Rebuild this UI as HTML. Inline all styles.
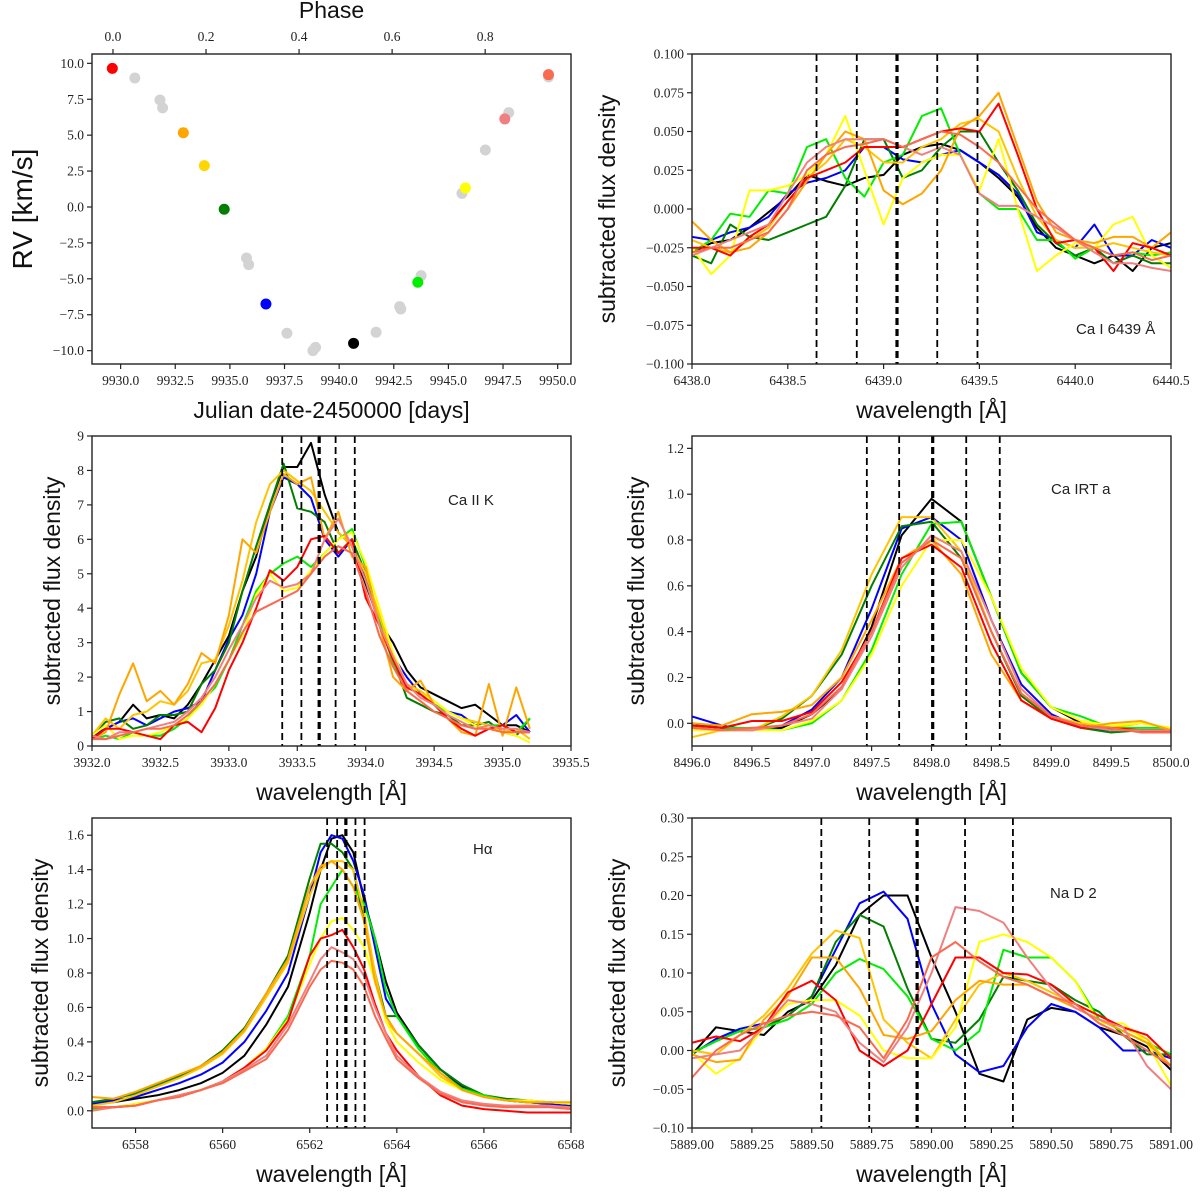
<!DOCTYPE html>
<html><head><meta charset="utf-8"><style>
html,body{margin:0;padding:0;background:#fff;}
svg{display:block;}
.tk{font-family:"Liberation Serif","DejaVu Serif",serif;font-size:13.5px;fill:#222;}
.lab{font-family:"Liberation Sans","DejaVu Sans",sans-serif;font-size:23px;fill:#111;}
.ann{font-family:"Liberation Sans","DejaVu Sans",sans-serif;font-size:15px;fill:#222;}
</style></head><body>
<svg id="fig" width="1200" height="1192" viewBox="0 0 1200 1192" xmlns="http://www.w3.org/2000/svg">
<rect width="1200" height="1192" fill="#fff"/>
</svg>
<script>
// ---- RV panel data ----
const rvGrayJD = [9930.65,9931.8,9931.92,9935.76,9935.86,9937.61,9938.8,9938.92,9941.69,9942.77,9942.82,9943.75,9945.62,9946.69,9947.76,9949.58];
const rvGrayRV = [8.98,7.45,6.9,-3.55,-4.01,-8.79,-10.0,-9.77,-8.72,-6.94,-7.1,-4.78,0.95,3.97,6.57,9.05];
const rvColJD = [9929.62,9932.87,9933.83,9934.74,9936.65,9940.66,9943.6,9945.78,9947.58,9949.58];
const rvColRV = [9.65,5.17,2.88,-0.16,-6.75,-9.49,-5.24,1.32,6.13,9.21];
const rvColors = ['#ff0000','#ffa500','#ffd700','#007f00','#0000ff','#000000','#00ee00','#ffff00','#f08080','#fa6a50'];
const rvXTicks = [9930,9932.5,9935,9937.5,9940,9942.5,9945,9947.5,9950];
const rvYTicks = [-10,-7.5,-5,-2.5,0,2.5,5,7.5,10];
const phaseTicks = [0,0.2,0.4,0.6,0.8];
const phaseT0 = 9929.65, phasePeriod = 21.29;

// ---- spectral series (order: black, blue, darkgreen, lime, gold, yellow, orange, red, lightcoral, tomato) ----
const specColors = ['#000000','#0000ff','#007f00','#00ee00','#ffc400','#ffff00','#ffa500','#ff0000','#f08080','#fa6a50'];

const caIx = [6438.0,6438.1,6438.2,6438.3,6438.4,6438.5,6438.6,6438.7,6438.8,6438.9,6439.0,6439.1,6439.2,6439.3,6439.4,6439.5,6439.6,6439.7,6439.8,6439.9,6440.0,6440.1,6440.2,6440.3,6440.4,6440.5];
const caI_black = [-0.028,-0.022,-0.02,-0.012,-0.002,0.008,0.022,0.018,0.015,0.02,0.022,0.035,0.04,0.042,0.038,0.03,0.02,0.008,-0.012,-0.025,-0.03,-0.035,-0.03,-0.04,-0.025,-0.022];
const caI_blue = [-0.018,-0.02,-0.015,-0.012,-0.005,0.01,0.017,0.02,0.025,0.04,0.04,0.032,0.03,0.035,0.038,0.03,0.022,0.01,-0.015,-0.02,-0.025,-0.01,-0.03,-0.03,-0.02,-0.025];
const caI_dgreen = [-0.03,-0.035,-0.01,-0.018,-0.02,-0.015,-0.01,-0.005,0.015,0.045,0.045,0.02,0.025,0.04,0.05,0.05,0.03,0.012,-0.01,-0.022,-0.03,-0.025,-0.035,-0.03,-0.035,-0.035];
const caI_lime = [-0.028,-0.02,-0.003,-0.005,0.012,0.01,0.04,0.045,0.02,0.008,0.03,0.035,0.06,0.065,0.035,0.01,0.0,0.0,-0.02,-0.02,-0.032,-0.025,-0.03,-0.028,-0.03,-0.028];
const caI_gold = [-0.02,-0.025,-0.028,-0.02,-0.012,0.005,0.02,0.03,0.045,0.04,0.03,0.03,0.04,0.045,0.055,0.058,0.05,0.02,-0.005,-0.02,-0.025,-0.025,-0.022,-0.025,-0.028,-0.03];
const caI_yellow = [-0.025,-0.042,-0.03,0.012,0.012,0.015,0.022,0.035,0.06,0.025,-0.01,0.02,0.03,0.035,0.035,0.012,0.045,0.0,-0.04,-0.03,-0.022,-0.025,-0.01,-0.005,-0.03,-0.038];
const caI_orange = [-0.008,-0.02,-0.028,-0.025,-0.015,0.0,0.018,0.035,0.05,0.045,0.012,0.003,0.01,0.025,0.052,0.06,0.075,0.04,0.005,-0.015,-0.02,-0.022,-0.018,-0.018,-0.025,-0.015];
const caI_red = [-0.025,-0.025,-0.03,-0.018,-0.01,0.005,0.02,0.025,0.03,0.04,0.04,0.04,0.045,0.05,0.052,0.05,0.068,0.035,0.0,-0.022,-0.02,-0.025,-0.04,-0.022,-0.025,-0.03];
const caI_lcoral = [-0.03,-0.025,-0.02,-0.015,-0.01,0.01,0.03,0.04,0.045,0.045,0.045,0.04,0.035,0.04,0.035,0.01,0.002,0.002,-0.005,-0.012,-0.02,-0.028,-0.035,-0.035,-0.038,-0.04];
const caI_tomato = [-0.028,-0.025,-0.025,-0.02,-0.015,0.0,0.025,0.035,0.04,0.042,0.045,0.04,0.045,0.05,0.048,0.04,0.03,0.015,0.0,-0.01,-0.02,-0.025,-0.03,-0.028,-0.033,-0.03];

const caKx = [3932.0,3932.1,3932.2,3932.3,3932.4,3932.5,3932.6,3932.7,3932.8,3932.9,3933.0,3933.1,3933.2,3933.3,3933.4,3933.5,3933.6,3933.7,3933.8,3933.9,3934.0,3934.1,3934.2,3934.3,3934.4,3934.5,3934.6,3934.7,3934.8,3934.9,3935.0,3935.1,3935.2];
const caK_black = [0.3,0.5,0.7,1.2,0.8,0.9,0.8,1.2,1.8,2.5,3.2,4.5,5.5,7.0,8.1,8.1,8.8,7.3,6.2,5.8,4.7,3.6,3.0,2.2,1.7,1.5,1.3,1.1,1.2,0.9,0.6,0.6,0.4];
const caK_blue = [0.3,0.5,0.7,0.8,0.6,0.8,1.0,1.1,1.3,2.2,3.1,3.8,5.0,6.8,7.8,7.6,7.2,6.0,5.5,6.0,4.8,3.5,2.6,2.0,1.5,1.2,1.0,0.9,0.6,0.5,0.6,0.9,0.4];
const caK_dgreen = [0.3,0.7,0.8,0.5,0.6,0.9,0.9,1.0,1.8,2.2,3.0,4.5,5.8,7.0,8.2,6.9,6.8,6.5,5.6,6.0,5.0,3.5,2.5,1.4,1.2,1.0,0.9,0.6,0.6,0.7,0.4,0.3,0.8];
const caK_lime = [0.2,0.3,0.2,0.4,0.3,0.3,0.5,0.8,1.3,1.7,2.5,3.5,4.5,5.0,5.3,5.5,5.2,5.6,6.0,6.3,5.2,3.6,2.4,1.8,1.5,1.2,1.0,0.8,0.7,0.6,0.6,0.4,0.8];
const caK_gold = [0.3,0.8,0.5,0.9,1.0,1.3,1.2,1.6,2.4,2.5,3.5,4.8,6.5,7.6,8.0,7.7,7.4,6.8,6.2,5.8,5.0,3.8,2.5,1.8,1.6,1.3,1.0,0.8,0.7,0.6,0.4,0.5,0.2];
const caK_yellow = [0.3,0.6,0.2,0.3,0.3,0.4,0.6,0.8,1.2,1.8,2.5,3.2,4.4,5.0,4.5,4.6,5.1,5.6,6.0,6.2,5.3,4.0,2.7,1.8,1.5,1.3,1.0,0.8,0.6,0.5,0.4,0.3,0.1];
const caK_orange = [0.2,0.4,1.5,2.4,1.3,1.6,1.2,1.8,2.7,2.4,3.8,6.0,5.6,6.8,7.9,7.6,7.8,6.0,6.8,5.5,5.2,3.5,2.0,1.6,1.9,1.2,0.8,0.4,0.3,1.8,0.3,1.7,0.5];
const caK_red = [0.2,0.5,0.5,0.4,0.3,0.2,0.6,0.7,0.4,1.1,2.2,3.0,4.0,5.1,4.8,5.2,6.0,6.1,5.6,6.0,4.3,3.5,2.5,1.7,1.5,1.2,0.8,0.5,0.3,0.5,0.6,0.4,0.4];
const caK_lcoral = [0.3,0.2,0.4,0.4,0.5,0.6,0.7,1.0,1.4,2.0,2.8,3.5,4.3,4.8,4.6,4.7,5.0,6.0,6.6,5.8,4.8,3.5,2.6,1.8,1.4,1.2,0.9,0.7,0.5,0.6,0.5,0.5,0.4];
const caK_tomato = [0.2,0.2,0.3,0.4,0.5,0.5,0.6,0.9,1.3,1.8,2.5,3.3,3.9,4.1,4.3,4.5,5.0,5.5,5.8,5.6,4.5,3.2,2.3,1.6,1.3,1.0,0.8,0.6,0.5,0.5,0.4,0.4,0.4];

const irtX = [8496,8496.25,8496.5,8496.75,8497,8497.25,8497.5,8497.75,8498,8498.25,8498.5,8498.75,8499,8499.25,8499.5,8499.75,8500];
const irt_black = [0.0,-0.02,-0.03,-0.02,0.04,0.15,0.42,0.82,0.98,0.88,0.55,0.22,0.07,0.0,-0.03,-0.03,-0.03];
const irt_blue = [0.03,-0.01,-0.03,-0.01,0.06,0.2,0.5,0.85,0.9,0.8,0.45,0.17,0.04,-0.02,-0.03,-0.03,-0.03];
const irt_dgreen = [-0.02,-0.03,-0.03,0.02,0.12,0.3,0.6,0.86,0.88,0.72,0.4,0.12,0.02,-0.02,-0.04,-0.03,-0.03];
const irt_lime = [-0.01,-0.02,-0.02,-0.03,0.0,0.1,0.32,0.65,0.87,0.88,0.55,0.22,0.07,0.03,-0.02,-0.02,-0.02];
const irt_gold = [-0.06,-0.03,-0.03,0.03,0.12,0.32,0.65,0.9,0.9,0.75,0.4,0.13,0.03,0.0,-0.02,0.0,-0.02];
const irt_yellow = [-0.03,-0.03,-0.03,-0.03,0.01,0.1,0.3,0.6,0.8,0.8,0.55,0.24,0.07,0.01,-0.01,0.0,-0.02];
const irt_orange = [0.0,-0.01,0.04,0.05,0.08,0.2,0.45,0.72,0.8,0.65,0.3,0.1,0.02,-0.02,0.0,0.01,-0.03];
const irt_red = [-0.01,-0.02,0.01,0.01,0.05,0.18,0.4,0.72,0.78,0.68,0.35,0.1,0.02,-0.02,-0.02,-0.03,-0.04];
const irt_lcoral = [-0.02,-0.03,-0.03,-0.01,0.02,0.15,0.38,0.68,0.82,0.75,0.45,0.15,0.03,-0.01,-0.03,-0.03,-0.03];
const irt_tomato = [-0.02,-0.03,-0.02,-0.01,0.04,0.16,0.4,0.7,0.8,0.72,0.4,0.13,0.03,-0.01,-0.02,-0.04,-0.04];

const haX = [6557,6557.5,6558,6558.5,6559,6559.5,6560,6560.5,6561,6561.5,6562,6562.25,6562.5,6562.75,6563,6563.25,6563.5,6563.75,6564,6564.5,6565,6565.5,6566,6566.5,6567,6567.5,6568];
const ha_black = [0.04,0.05,0.07,0.09,0.12,0.16,0.22,0.32,0.5,0.72,1.15,1.4,1.58,1.6,1.5,1.22,1.0,0.75,0.57,0.38,0.24,0.14,0.09,0.06,0.05,0.04,0.03];
const ha_blue = [0.04,0.06,0.08,0.12,0.16,0.21,0.28,0.4,0.58,0.8,1.25,1.5,1.6,1.58,1.45,1.25,0.95,0.65,0.55,0.38,0.24,0.15,0.08,0.06,0.05,0.04,0.03];
const ha_dgreen = [0.05,0.07,0.1,0.15,0.2,0.26,0.35,0.48,0.68,0.9,1.35,1.55,1.55,1.5,1.4,1.1,0.8,0.55,0.55,0.38,0.24,0.15,0.09,0.07,0.06,0.05,0.04];
const ha_lime = [0.01,0.02,0.04,0.06,0.09,0.12,0.17,0.25,0.36,0.55,0.9,1.2,1.3,1.4,1.3,1.2,1.0,0.7,0.55,0.36,0.22,0.13,0.09,0.06,0.05,0.05,0.04];
const ha_gold = [0.03,0.05,0.09,0.14,0.19,0.25,0.33,0.46,0.66,0.86,1.25,1.4,1.45,1.45,1.4,1.15,0.8,0.52,0.45,0.33,0.2,0.12,0.08,0.06,0.05,0.05,0.04];
const ha_yellow = [0.0,0.02,0.04,0.06,0.09,0.12,0.17,0.25,0.36,0.53,0.85,1.0,1.1,1.12,1.05,0.95,0.75,0.52,0.4,0.28,0.18,0.12,0.08,0.06,0.06,0.05,0.04];
const ha_orange = [0.08,0.07,0.11,0.16,0.21,0.26,0.34,0.47,0.68,0.88,1.3,1.42,1.45,1.4,1.3,1.1,0.75,0.55,0.45,0.33,0.22,0.12,0.08,0.06,0.05,0.05,0.05];
const ha_red = [0.02,0.02,0.03,0.06,0.09,0.12,0.17,0.25,0.35,0.52,0.9,1.0,1.02,1.05,0.95,0.82,0.62,0.45,0.35,0.2,0.09,0.03,0.01,0.0,-0.01,-0.01,-0.01];
const ha_lcoral = [0.0,0.02,0.03,0.06,0.09,0.12,0.17,0.24,0.32,0.5,0.75,0.88,0.95,0.92,0.88,0.78,0.6,0.45,0.32,0.2,0.11,0.06,0.04,0.03,0.03,0.03,0.02];
const ha_tomato = [0.02,0.02,0.03,0.06,0.08,0.12,0.16,0.23,0.3,0.47,0.72,0.82,0.87,0.86,0.82,0.72,0.55,0.42,0.3,0.19,0.1,0.05,0.03,0.02,0.02,0.02,0.01];

const naX = [5889.0,5889.1,5889.2,5889.3,5889.4,5889.5,5889.6,5889.7,5889.8,5889.9,5890.0,5890.1,5890.2,5890.3,5890.4,5890.5,5890.6,5890.7,5890.8,5890.9,5891.0];
const na_black = [-0.005,0.03,0.025,0.02,0.05,0.065,0.11,0.175,0.2,0.2,0.12,0.05,-0.03,-0.04,0.04,0.055,0.05,0.03,0.02,0.005,-0.025];
const na_blue = [-0.005,0.015,0.028,0.035,0.045,0.07,0.13,0.19,0.205,0.17,0.06,-0.005,-0.028,-0.02,0.03,0.06,0.05,0.03,0.0,0.0,-0.01];
const na_dgreen = [-0.003,0.012,0.025,0.03,0.045,0.07,0.14,0.175,0.16,0.08,0.015,0.01,0.04,0.095,0.09,0.085,0.065,0.05,0.02,-0.005,-0.005];
const na_lime = [-0.003,0.012,0.025,0.03,0.04,0.06,0.1,0.118,0.105,0.07,0.015,0.0,0.025,0.13,0.12,0.12,0.09,0.04,0.025,0.01,-0.005];
const na_gold = [0.0,-0.005,0.02,0.045,0.08,0.125,0.155,0.145,0.04,0.01,-0.01,0.04,0.085,0.1,0.09,0.075,0.06,0.045,0.03,0.015,-0.02];
const na_yellow = [-0.003,-0.03,-0.01,0.03,0.06,0.065,0.065,0.045,0.0,-0.01,-0.01,0.03,0.14,0.15,0.14,0.12,0.09,0.035,0.035,0.01,-0.045];
const na_orange = [-0.005,-0.015,-0.012,0.04,0.07,0.12,0.12,0.08,0.02,0.015,0.025,0.065,0.09,0.085,0.085,0.07,0.055,0.04,0.025,0.01,-0.02];
const na_red = [0.01,0.018,0.012,0.03,0.075,0.09,0.065,0.0,-0.02,0.0,0.06,0.12,0.12,0.1,0.098,0.085,0.06,0.045,0.03,0.02,-0.01];
const na_lcoral = [-0.01,-0.005,0.0,0.03,0.065,0.06,0.05,0.01,-0.015,0.03,0.1,0.185,0.18,0.165,0.12,0.08,0.055,0.04,0.03,-0.02,-0.05];
const na_tomato = [-0.035,0.0,0.02,0.035,0.045,0.05,0.045,0.03,-0.01,0.04,0.12,0.14,0.115,0.095,0.085,0.07,0.06,0.035,0.02,0.0,-0.02];

const caILines = [6438.65,6438.86,6439.07,6439.28,6439.49];
const caKLines = [3933.39,3933.53,3933.66,3933.78,3933.92];
const irtLines = [8497.46,8497.73,8498.01,8498.29,8498.57];
const haLines = [6562.4,6562.63,6562.83,6563.05,6563.26];
const naLines = [5889.54,5889.74,5889.94,5890.14,5890.34];

const caIXTicks=[6438,6438.5,6439,6439.5,6440,6440.5], caIYTicks=[-0.1,-0.075,-0.05,-0.025,0,0.025,0.05,0.075,0.1];
const caKXTicks=[3932,3932.5,3933,3933.5,3934,3934.5,3935,3935.5], caKYTicks=[0,1,2,3,4,5,6,7,8,9];
const irtXTicks=[8496,8496.5,8497,8497.5,8498,8498.5,8499,8499.5,8500], irtYTicks=[0,0.2,0.4,0.6,0.8,1.0,1.2];
const haXTicks=[6558,6560,6562,6564,6566,6568], haYTicks=[0,0.2,0.4,0.6,0.8,1.0,1.2,1.4,1.6];
const naXTicks=[5889,5889.25,5889.5,5889.75,5890,5890.25,5890.5,5890.75,5891], naYTicks=[-0.1,-0.05,0,0.05,0.1,0.15,0.2,0.25,0.3];

const NS='http://www.w3.org/2000/svg';
const svg=document.getElementById('fig');
function mk(tag,attrs,parent){const e=document.createElementNS(NS,tag);for(const k in attrs)e.setAttribute(k,attrs[k]);(parent||svg).appendChild(e);return e;}
function fmt(v,d){const s=Math.abs(v).toFixed(d);return (v<0?'\u2212':'')+s;}

function panel(name,box,xr,yr,xt,xd,yt,yd,ylabel,xlabel){
  const g=mk('g',{});
  
  
  const sx=v=>box.l+(v-xr[0])/(xr[1]-xr[0])*(box.r-box.l);
  const sy=v=>box.b-(v-yr[0])/(yr[1]-yr[0])*(box.b-box.t);
  const clipId='clip-'+name;
  const cp=mk('clipPath',{id:clipId},g);
  mk('rect',{x:box.l,y:box.t,width:box.r-box.l,height:box.b-box.t},cp);
  const plot=mk('g',{'clip-path':'url(#'+clipId+')'},g);
  
  
  const xa=mk('g',{},g);
  
  
  xt.forEach(v=>{const x=sx(v);mk('line',{x1:x,x2:x,y1:box.b,y2:box.b+5,stroke:'#222','stroke-width':1.2},xa);
    const t=mk('text',{x:x,y:box.b+21,'text-anchor':'middle',class:'tk'},xa);t.textContent=fmt(v,xd);});
  const ya=mk('g',{},g);
  
  
  yt.forEach(v=>{const y=sy(v);mk('line',{x1:box.l-5,x2:box.l,y1:y,y2:y,stroke:'#222','stroke-width':1.2},ya);
    const t=mk('text',{x:box.l-8,y:y+4.5,'text-anchor':'end',class:'tk'},ya);t.textContent=fmt(v,yd);});
  const yl=mk('text',{x:0,y:0,'text-anchor':'middle',class:'lab',transform:'translate('+ylabel.x+','+((box.t+box.b)/2)+') rotate(-90)'},g);
  if(ylabel.size) yl.setAttribute('style','font-size:'+ylabel.size+'px');
  yl.textContent=ylabel.text;
  
  
  const xl=mk('text',{x:(box.l+box.r)/2,y:box.b+54,'text-anchor':'middle',class:'lab'},g);
  xl.textContent=xlabel;
  
  
  return {g,plot,sx,sy,box};
}
function frame(p,name){const r=mk('rect',{x:p.box.l,y:p.box.t,width:p.box.r-p.box.l,height:p.box.b-p.box.t,fill:'none',stroke:'#222','stroke-width':1.4},p.g);
  
  }
function drawSeries(p,xs,list,name){
  list.forEach((ys,i)=>{
    const d=ys.map((y,j)=>(j?'L':'M')+p.sx(xs[j]).toFixed(1)+','+p.sy(y).toFixed(1)).join('');
    const path=mk('path',{d:d,fill:'none',stroke:specColors[i],'stroke-width':2,'stroke-linejoin':'round'},p.plot);
    
    
  });
}
function drawLines(p,lines,name){
  lines.forEach((v,i)=>{const x=p.sx(v);
    const l=mk('line',{x1:x,x2:x,y1:p.box.t,y2:p.box.b,stroke:'#000','stroke-width':i===2?3.2:1.8,'stroke-dasharray':'7,4'},p.plot);
    
    });
}
function annot(p,x,y,txt,name){const t=mk('text',{x:x,y:y,class:'ann'},p.g);t.textContent=txt;
  
  }

const YL='subtracted  flux  density';
const WL='wavelength  [\u00C5]';
const C1={l:92,r:571}, C2={l:692,r:1171};
const R1={t:54,b:364}, R2={t:436,b:746}, R3={t:818,b:1128};

// RV panel
(function(){
  const p=panel('rv-panel',{l:C1.l,r:C1.r,t:R1.t,b:R1.b},[9928.69,9950.61],[-10.93,10.65],rvXTicks,1,rvYTicks,1,{x:32,text:'RV [km/s]',size:28},'Julian date-2450000 [days]');
  rvGrayJD.forEach((jd,i)=>{const c=mk('circle',{cx:p.sx(jd),cy:p.sy(rvGrayRV[i]),r:5.5,fill:'#d3d3d3'},p.plot);
    
    });
  rvColJD.forEach((jd,i)=>{const c=mk('circle',{cx:p.sx(jd),cy:p.sy(rvColRV[i]),r:5.5,fill:rvColors[i]},p.plot);
    
    });
  frame(p,'rv-panel');
  const ta=mk('g',{},p.g);
  
  
  phaseTicks.forEach(ph=>{const x=p.sx(phaseT0+ph*phasePeriod);
    mk('line',{x1:x,x2:x,y1:p.box.t-5,y2:p.box.t,stroke:'#222','stroke-width':1.2},ta);
    const t=mk('text',{x:x,y:p.box.t-13,'text-anchor':'middle',class:'tk'},ta);t.textContent=ph.toFixed(1);});
  const pt=mk('text',{x:(p.box.l+p.box.r)/2,y:18,'text-anchor':'middle',class:'lab'},p.g);pt.textContent='Phase';
  
  
})();

// Ca I
(function(){
  const p=panel('ca-i-panel',{l:C2.l,r:C2.r,t:R1.t,b:R1.b},[6438,6440.5],[-0.1,0.1],caIXTicks,1,caIYTicks,3,{x:615,text:YL},WL);
  drawSeries(p,caIx,[caI_black,caI_blue,caI_dgreen,caI_lime,caI_gold,caI_yellow,caI_orange,caI_red,caI_lcoral,caI_tomato],'ca-i');
  drawLines(p,caILines,'ca-i');
  frame(p,'ca-i-panel');
  annot(p,1076,334,'Ca I 6439 \u00C5','ca-i-label');
})();
// Ca II K
(function(){
  const p=panel('ca-ii-k-panel',{l:C1.l,r:C1.r,t:R2.t,b:R2.b},[3932,3935.5],[0,9],caKXTicks,1,caKYTicks,0,{x:60,text:YL},WL);
  drawSeries(p,caKx,[caK_black,caK_blue,caK_dgreen,caK_lime,caK_gold,caK_yellow,caK_orange,caK_red,caK_lcoral,caK_tomato],'ca-ii-k');
  drawLines(p,caKLines,'ca-ii-k');
  frame(p,'ca-ii-k-panel');
  annot(p,448,505,'Ca II K','ca-ii-k-label');
})();
// Ca IRT
(function(){
  const p=panel('ca-irt-panel',{l:C2.l,r:C2.r,t:R2.t,b:R2.b},[8496,8500],[-0.099,1.254],irtXTicks,1,irtYTicks,1,{x:644,text:YL},WL);
  drawSeries(p,irtX,[irt_black,irt_blue,irt_dgreen,irt_lime,irt_gold,irt_yellow,irt_orange,irt_red,irt_lcoral,irt_tomato],'ca-irt');
  drawLines(p,irtLines,'ca-irt');
  frame(p,'ca-irt-panel');
  annot(p,1051,494,'Ca IRT a','ca-irt-label');
})();
// Halpha
(function(){
  const p=panel('halpha-panel',{l:C1.l,r:C1.r,t:R3.t,b:R3.b},[6557,6568],[-0.1,1.7],haXTicks,0,haYTicks,1,{x:48,text:YL},WL);
  drawSeries(p,haX,[ha_black,ha_blue,ha_dgreen,ha_lime,ha_gold,ha_yellow,ha_orange,ha_red,ha_lcoral,ha_tomato],'halpha');
  drawLines(p,haLines,'halpha');
  frame(p,'halpha-panel');
  annot(p,473,854,'H\u03B1','halpha-label');
})();
// Na D2
(function(){
  const p=panel('na-d2-panel',{l:C2.l,r:C2.r,t:R3.t,b:R3.b},[5889,5891],[-0.1,0.3],naXTicks,2,naYTicks,2,{x:625,text:YL},WL);
  drawSeries(p,naX,[na_black,na_blue,na_dgreen,na_lime,na_gold,na_yellow,na_orange,na_red,na_lcoral,na_tomato],'na-d2');
  drawLines(p,naLines,'na-d2');
  frame(p,'na-d2-panel');
  annot(p,1050,898,'Na D 2','na-d2-label');
})();
</script>
</body></html>
